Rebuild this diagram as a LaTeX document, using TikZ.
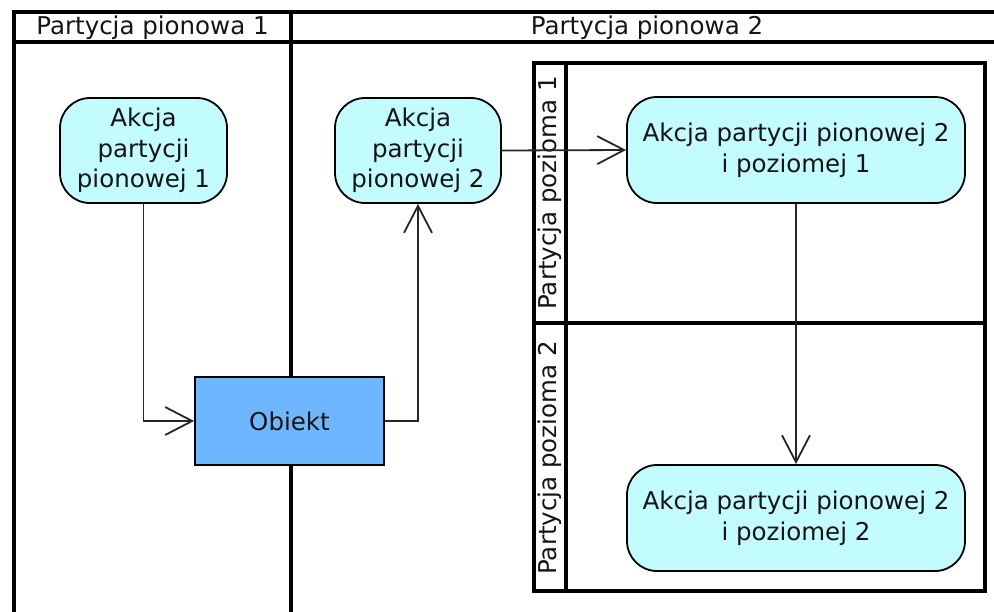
\documentclass[tikz,border=0pt]{standalone}
\usepackage{fontspec}
\setmainfont{DejaVu Sans}
\usetikzlibrary{arrows.meta}
\definecolor{actfill}{RGB}{194,252,255}
\definecolor{objfill}{RGB}{110,182,255}
\definecolor{txt}{RGB}{20,20,20}
\tikzset{
  frame/.style={line width=4pt, draw=black},
  pframe/.style={line width=3.5pt, draw=black},
  action/.style={draw=black, line width=1.8pt, fill=actfill, rounded corners=30pt,
    align=center, text=txt, inner sep=0pt, font=\fontsize{24.5}{30.5}\selectfont},
  objbox/.style={draw=black, line width=1.8pt, fill=objfill, inner sep=0pt,
    text=txt, font=\fontsize{24.5}{30.5}\selectfont},
  hdr/.style={text=txt, inner sep=0pt, font=\fontsize{24.5}{30.5}\selectfont},
  flow/.style={line width=1.8pt, draw=black!85, -{Straight Barb[length=27pt,width=28pt]}}
}
\begin{document}
\begin{tikzpicture}[x=1pt,y=-1pt]
\useasboundingbox (0,0) rectangle (994,611);
\clip (0,0) rectangle (994,611);
\fill[white] (0,0) rectangle (994,611);
% vertical partitions
\draw[frame] (14,620) -- (14,12) -- (1010,12);
\draw[frame] (14,42) -- (1010,42);
\draw[frame] (291,12) -- (291,620);
\node[hdr] (h1) at (152.5,27.5) {Partycja pionowa 1};
\node[hdr] (h2) at (647,27.5) {Partycja pionowa 2};
% horizontal partitions
\draw[pframe] (534,63) rectangle (985,591);
\draw[pframe] (566,63) -- (566,591);
\draw[pframe] (534,323) -- (985,323);
\node[hdr, rotate=90] (p1) at (550,193) {Partycja pozioma 1};
\node[hdr, rotate=90] (p2) at (550,458) {Partycja pozioma 2};
% nodes
\node[action, minimum width=167pt, minimum height=105pt] (a1) at (143.5,150.5) {Akcja\\partycji\\pionowej 1};
\node[action, minimum width=166pt, minimum height=105pt] (a2) at (418,150.5) {Akcja\\partycji\\pionowej 2};
\node[action, minimum width=338pt, minimum height=106pt] (a3) at (796,150) {Akcja partycji pionowej 2\\i poziomej 1};
\node[action, minimum width=338pt, minimum height=106pt] (a4) at (796,518) {Akcja partycji pionowej 2\\i poziomej 2};
\node[objbox, minimum width=189pt, minimum height=88pt] (obj) at (289.5,421) {Obiekt};
% connectors
\draw[flow] (a1.south) |- (obj.west);
\draw[flow] (obj.east) -| (a2.south);
\draw[flow] (a2.east) -- (a3.west);
\draw[flow] (a3.south) -- (a4.north);
\end{tikzpicture}
\end{document}
